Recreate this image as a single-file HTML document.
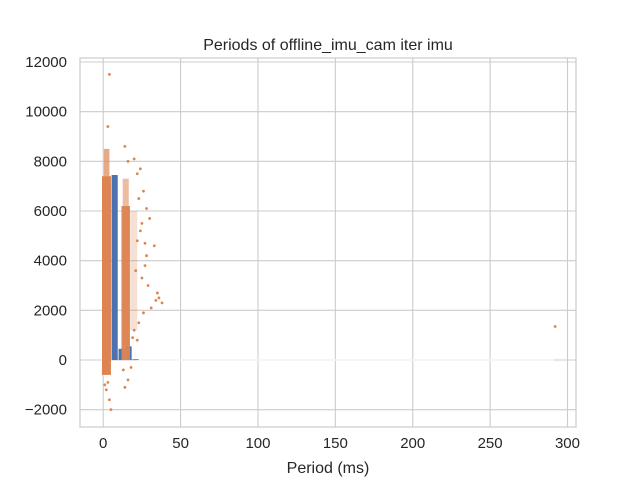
<!DOCTYPE html>
<html><head><meta charset="utf-8">
<style>
body{margin:0;background:#fff;}
svg{display:block;font-family:"Liberation Sans","DejaVu Sans",sans-serif;}
</style></head>
<body>
<svg id="chart" width="640" height="480">
<rect x="0" y="0" width="640" height="480" fill="#fff"/>
<g id="grid"></g>
<g id="bars"></g>
<g id="dense"></g>
<g id="pts"></g>
<g id="frame"></g>
<g id="ticks"></g>
<text x="328" y="50" text-anchor="middle" font-size="16" fill="#262626">Periods of offline_imu_cam iter imu</text>
<text x="328" y="473" text-anchor="middle" font-size="16" fill="#262626">Period (ms)</text>
</svg>
<script>
const xTicks=[0,50,100,150,200,250,300];
const yTicks=[-2000,0,2000,4000,6000,8000,10000,12000];
const binStarts=[0.9,5.4,9.9,14.4,18.9];
const binCounts=[7000,7450,450,550,30];
const denseXmin=[-0.8,0.4,11.8,12.6,17.5];
const denseXmax=[5.0,4.0,17.3,16.5,22];
const denseYmin=[-600,7300,0,600,1200];
const denseYmax=[7400,8500,6200,7300,6000];
const denseOpacity=[1,0.7,0.95,0.55,0.25];
const outX=[4,3,14,16,20,22,24,26,28,30,33,36,38,24,27,31,35,20,22,292,2,4,5,16,14,26,21,25,29,3,1,13,18,23,34,19,28,23,25,22,27];
const outY=[11500,9400,8600,8000,8100,7500,7700,6800,6100,5700,4600,2500,2300,5200,4700,2100,2700,1200,800,1350,-1200,-1600,-2000,-800,-1100,1900,3600,3300,3000,-900,-1000,-400,-300,1500,2400,900,4200,6500,5500,4800,3800];
const X0=80,X1=576,Y0=58,Y1=427,xmin=-15,xmax=305.5,ymin=-2698,ymax=12161;
const sx=v=>X0+(v-xmin)/(xmax-xmin)*(X1-X0);
const sy=v=>Y1-(v-ymin)/(ymax-ymin)*(Y1-Y0);
const NS="http://www.w3.org/2000/svg";
function mk(p,t,a){const e=document.createElementNS(NS,t);for(const k in a)e.setAttribute(k,a[k]);p.appendChild(e);return e;}
const grid=document.getElementById('grid'),ticks=document.getElementById('ticks');
xTicks.forEach(v=>{
 const l=mk(grid,'line',{x1:sx(v),x2:sx(v),y1:Y0,y2:Y1,stroke:'#cccccc','stroke-width':1.1});
 
 
 const t=mk(ticks,'text',{x:sx(v),y:Y1+21,'text-anchor':'middle','font-size':15,fill:'#262626'});
 t.textContent=v;
 
 
});
yTicks.forEach(v=>{
 const l=mk(grid,'line',{x1:X0,x2:X1,y1:sy(v),y2:sy(v),stroke:'#cccccc','stroke-width':1.1});
 
 
 const t=mk(ticks,'text',{x:X0-13,y:sy(v)+5,'text-anchor':'end','font-size':15,fill:'#262626'});
 t.textContent=v<0?'\u2212'+(-v):v;
 
 
});
const bars=document.getElementById('bars');
const zl=mk(bars,'line',{x1:sx(22),x2:sx(291),y1:sy(0),y2:sy(0),stroke:'#f4f4f4','stroke-width':1.5});


binStarts.forEach((b,i)=>{
 const r=mk(bars,'rect',{x:sx(b),y:sy(binCounts[i]),width:sx(b+4.5)-sx(b)-0.8,height:sy(0)-sy(binCounts[i]),fill:'#4c72b0'});
 
 
});
const dense=document.getElementById('dense');
denseXmin.forEach((x,i)=>{
 const r=mk(dense,'rect',{x:sx(x),y:sy(denseYmax[i]),width:sx(denseXmax[i])-sx(x),height:sy(denseYmin[i])-sy(denseYmax[i]),fill:'#dd8452',opacity:denseOpacity[i]});
 
 
});
const pts=document.getElementById('pts');
outX.forEach((x,i)=>{
 const c=mk(pts,'circle',{cx:sx(x),cy:sy(outY[i]),r:1.4,fill:'#dd8452'});
 
 
});
const f=mk(document.getElementById('frame'),'rect',{x:X0,y:Y0,width:X1-X0,height:Y1-Y0,fill:'none',stroke:'#cccccc','stroke-width':1.2});


</script>
</body></html>
